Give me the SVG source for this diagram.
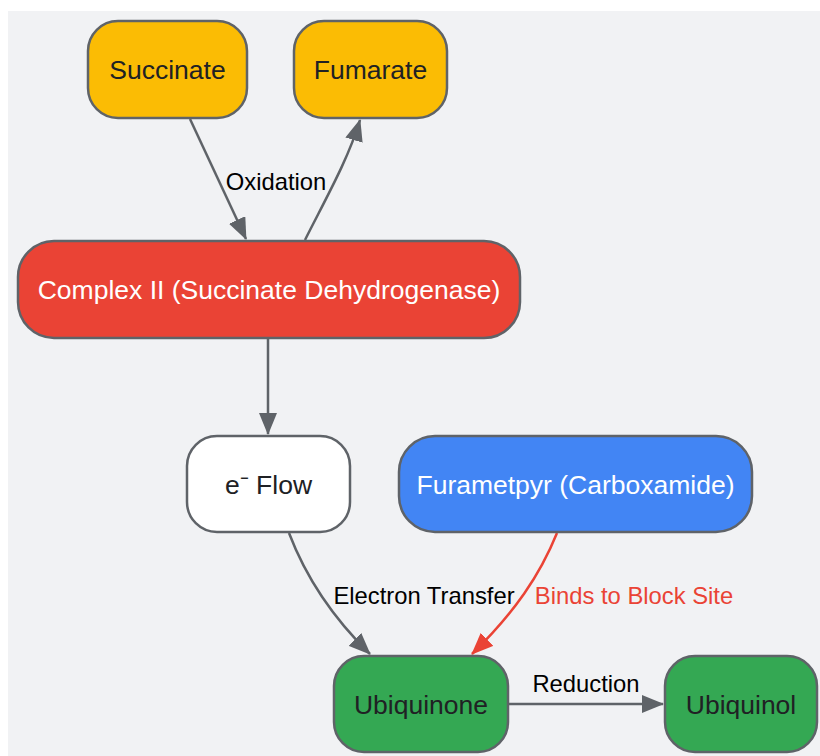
<svg xmlns="http://www.w3.org/2000/svg" width="820" height="756" viewBox="0 0 820 756">
<style>
.node rect{stroke:#5f6368;stroke-width:2.5}
.lbl{font-family:"Liberation Sans",Arial,sans-serif;font-size:26.5px;text-anchor:middle;dominant-baseline:central}
.dark{fill:#202124}
.light{fill:#ffffff}
.edge{fill:none;stroke:#5f6368;stroke-width:2.5}
.red{stroke:#ea4335}
.elbl{font-family:"Liberation Sans",Arial,sans-serif;font-size:23.8px;text-anchor:middle;dominant-baseline:central;fill:#000}
</style>
<defs>
<marker id="ah" markerUnits="userSpaceOnUse" markerWidth="22" markerHeight="18" refX="21" refY="9" orient="auto" viewBox="0 0 22 18">
<path d="M0,0 L22,9 L0,18 z" fill="#5f6368"/>
</marker>
<marker id="ahr" markerUnits="userSpaceOnUse" markerWidth="22" markerHeight="18" refX="21" refY="9" orient="auto" viewBox="0 0 22 18">
<path d="M0,0 L22,9 L0,18 z" fill="#ea4335"/>
</marker>
</defs>
<rect x="0" y="0" width="820" height="756" fill="#ffffff"/>
<rect x="8" y="11" width="812" height="745" fill="#f1f2f4"/>
<g id="connectors">
<path class="edge" d="M190,119 L246,239" marker-end="url(#ah)"/>
<path class="edge" d="M305,240 C325,200 348,160 360,120" marker-end="url(#ah)"/>
<path class="edge" d="M268,339 L268,434" marker-end="url(#ah)"/>
<path class="edge" d="M289,533 C305,575 330,615 370,654" marker-end="url(#ah)"/>
<path class="edge red" d="M557,533 C540,575 515,612 472,654" marker-end="url(#ahr)"/>
<path class="edge" d="M509,704 L663,704" marker-end="url(#ah)"/>
<text class="elbl" x="276" y="181">Oxidation</text>
<text class="elbl" x="424" y="595">Electron Transfer</text>
<text class="elbl" x="634" y="595" style="fill:#ea4335">Binds to Block Site</text>
<text class="elbl" x="586" y="683">Reduction</text>
</g>
<g id="succinate" class="node"><rect x="88" y="21" width="159" height="97" rx="30" fill="#fbbc04"/><text class="lbl dark" x="167.5" y="70">Succinate</text></g>
<g id="fumarate" class="node"><rect x="294" y="21" width="153" height="97" rx="30" fill="#fbbc04"/><text class="lbl dark" x="370.5" y="70">Fumarate</text></g>
<g id="complex2" class="node"><rect x="18" y="241" width="502" height="97" rx="36" fill="#ea4335"/><text class="lbl light" x="269" y="290">Complex II (Succinate Dehydrogenase)</text></g>
<g id="eflow" class="node"><rect x="187" y="436" width="163" height="96" rx="30" fill="#ffffff"/><text class="lbl dark" x="268.5" y="485">e⁻ Flow</text></g>
<g id="furametpyr" class="node"><rect x="399" y="436" width="353" height="96" rx="36" fill="#4285f4"/><text class="lbl light" x="575.5" y="485">Furametpyr (Carboxamide)</text></g>
<g id="ubiquinone" class="node"><rect x="334" y="656" width="174" height="96" rx="30" fill="#34a853"/><text class="lbl dark" x="421" y="705">Ubiquinone</text></g>
<g id="ubiquinol" class="node"><rect x="665" y="656" width="152" height="96" rx="30" fill="#34a853"/><text class="lbl dark" x="741" y="705">Ubiquinol</text></g>
</svg>
